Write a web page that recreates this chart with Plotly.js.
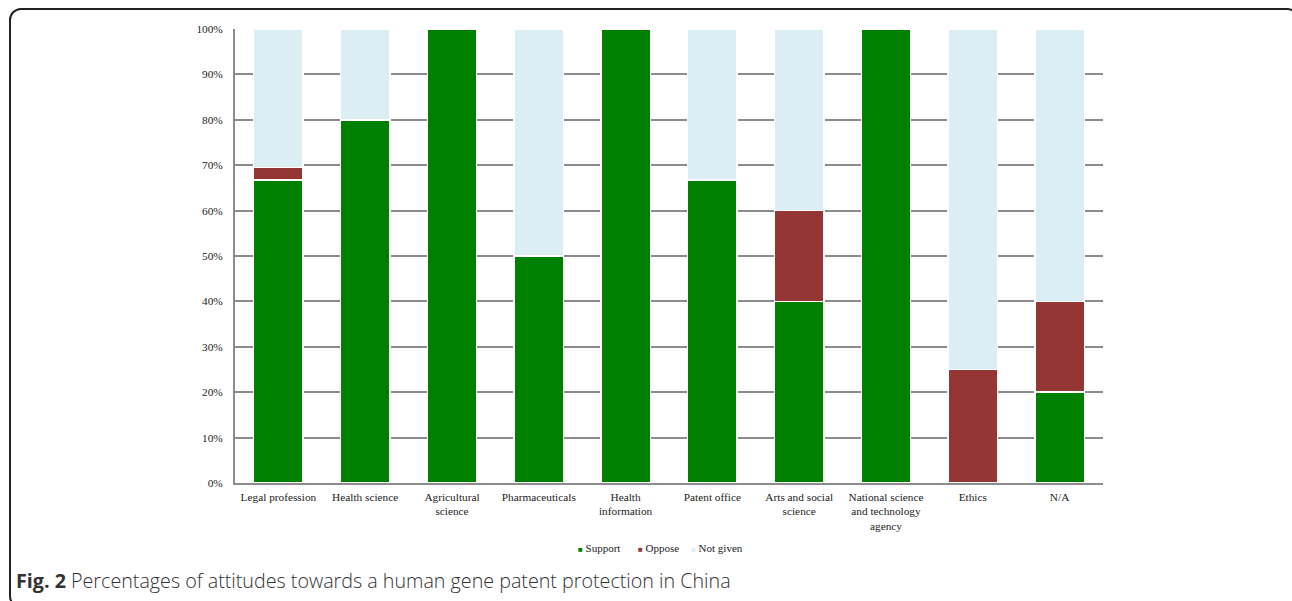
<!DOCTYPE html>
<html>
<head>
<meta charset="utf-8">
<script src="https://cdn.plot.ly/plotly-3.0.1.min.js"></script>
<style>
  html, body { margin: 0; padding: 0; background: #fff; }
  #wrap { position: relative; width: 1292px; height: 601px; overflow: hidden; }
  #chart { width: 1292px; height: 601px; }
  #frame { position: absolute; left: 9px; top: 8px; width: 1290px; height: 600px;
           border: 2px solid #222; border-radius: 12px; pointer-events: none; box-sizing: border-box; }
</style>
</head>
<body>
<div id="wrap">
  <div id="chart"></div>
  <div id="frame"></div>
</div>
<script>
const categories = [
  "Legal profession", "Health science", "Agricultural<br>science", "Pharmaceuticals",
  "Health<br>information", "Patent office", "Arts and social<br>science",
  "National science<br>and technology<br>agency", "Ethics", "N/A"
];
const seriesNames  = ["Support", "Oppose", "Not given"];
const seriesColors = ["#008000", "#943634", "#DBEEF3"];
const supportVals  = [66.7, 80, 100, 50, 100, 66.7, 40, 100, 0, 20];
const opposeVals   = [2.8, 0, 0, 0, 0, 0, 20, 0, 25, 20];
const notGivenVals = [30.5, 20, 0, 50, 0, 33.3, 40, 0, 75, 60];
const yTickVals  = [0, 10, 20, 30, 40, 50, 60, 70, 80, 90, 100];
const yTickText  = ["0%", "10%", "20%", "30%", "40%", "50%", "60%", "70%", "80%", "90%", "100%"];

const serif = "Liberation Serif, Times New Roman, serif";
const seriesVals = [supportVals, opposeVals, notGivenVals];
const data = seriesNames.map((name, i) => ({
  type: "bar", name: name, x: categories, y: seriesVals[i],
  marker: { color: seriesColors[i], line: { color: "#ffffff", width: 1.5 } },
  hoverinfo: "skip"
}));

// manual legend (small square swatches, as in the reference)
const legendX = [576, 636, 689];
const legendAnn = seriesNames.map((name, i) => ({
  xref: "paper", yref: "paper",
  x: (legendX[i] - 235) / 868, y: (483 - 548) / 454,
  xanchor: "left", yanchor: "middle", showarrow: false,
  text: '<span style="color:' + seriesColors[i] + ';font-size:8px">■</span> ' + name,
  font: { family: serif, size: 11, color: "#222" }
}));

const layout = {
  width: 1292, height: 601,
  margin: { l: 235, r: 189, t: 29, b: 118 },
  barmode: "stack",
  bargap: 0.43,
  paper_bgcolor: "#ffffff",
  plot_bgcolor: "#ffffff",
  showlegend: false,
  xaxis: {
    type: "category",
    tickfont: { family: serif, size: 11.3, color: "#222" },
    showline: true, linecolor: "#8c8c8c", linewidth: 2,
    ticks: "", showgrid: false, tickangle: 0, automargin: false,
    ticklabelstandoff: 2
  },
  yaxis: {
    range: [0, 100], tickvals: yTickVals, ticktext: yTickText,
    tickfont: { family: serif, size: 11.3, color: "#222" },
    showline: true, linecolor: "#8c8c8c", linewidth: 2,
    showgrid: true, gridcolor: "#8c8c8c", gridwidth: 2,
    zeroline: false, ticks: "", automargin: false, fixedrange: true,
    ticklabelstandoff: 8
  },
  annotations: legendAnn.concat([{
    xref: "paper", yref: "paper",
    x: (14 - 235) / 868, y: (483 - 580) / 454,
    xanchor: "left", yanchor: "middle", showarrow: false,
    text: "<b>Fig. 2</b> Percentages of attitudes towards a human gene patent protection in China",
    font: { family: "Open Sans, Noto Sans, sans-serif", size: 19.7, color: "#333", weight: 300 }
  }])
};

Plotly.newPlot("chart", data, layout, { staticPlot: true, displayModeBar: false });
</script>
</body>
</html>
